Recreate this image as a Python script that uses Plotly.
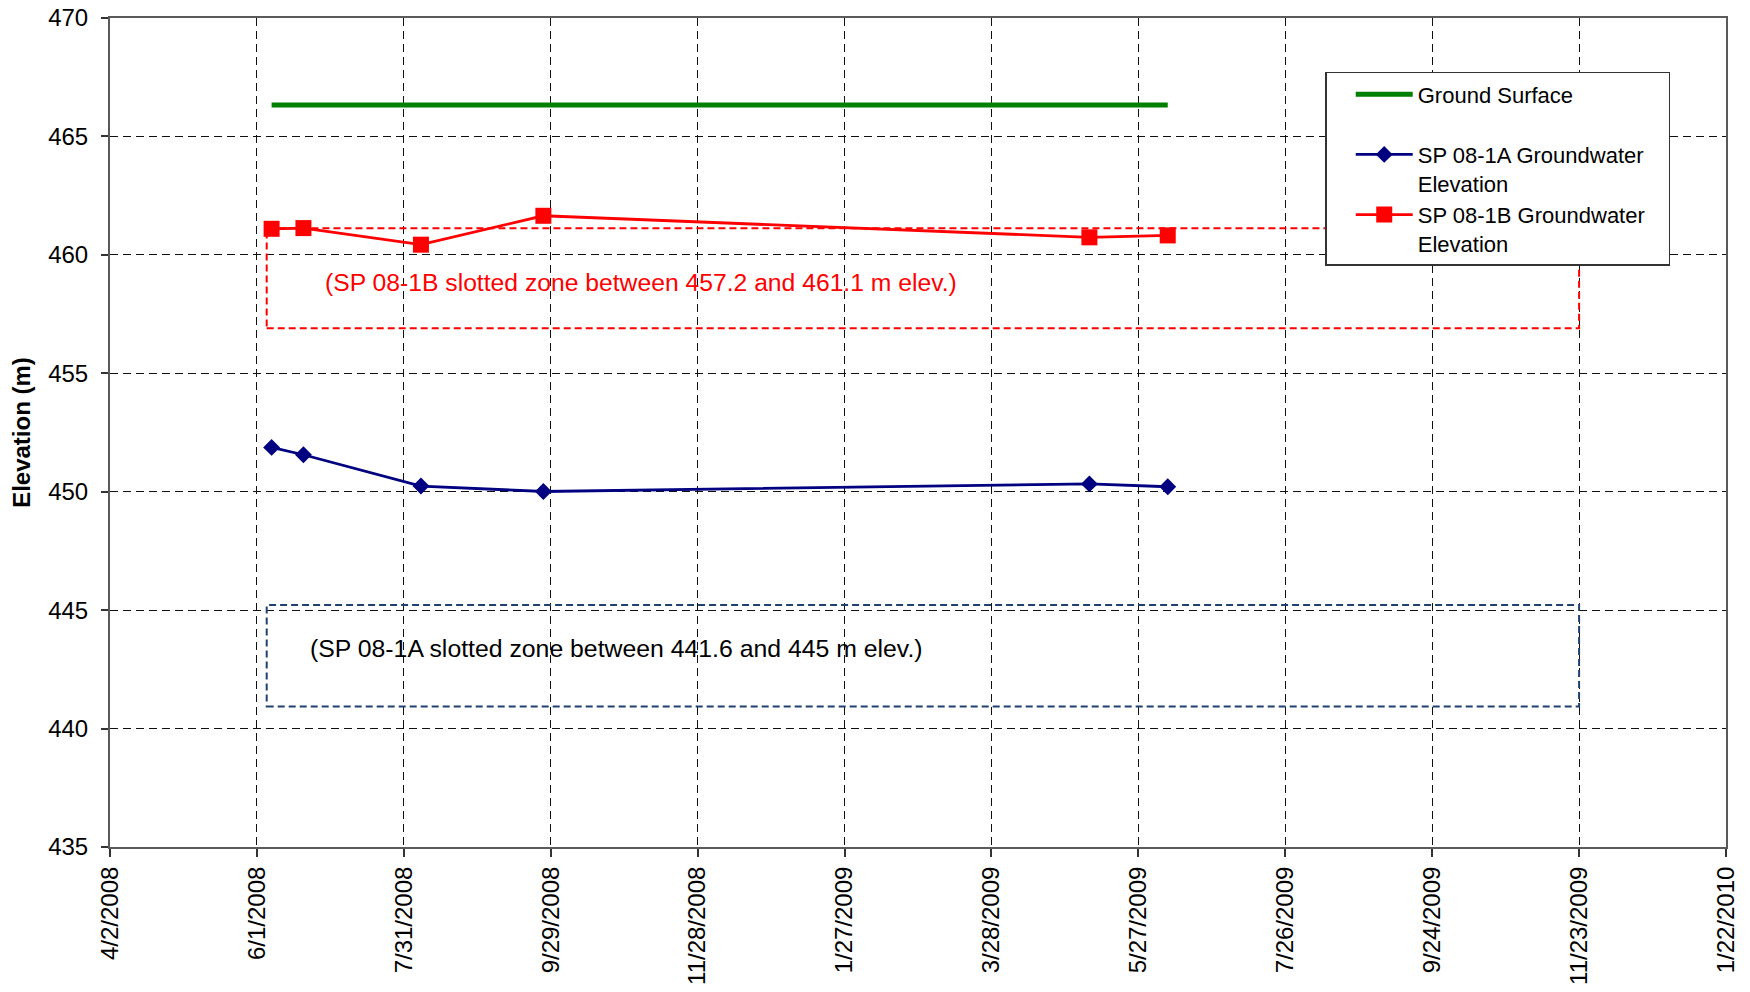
import plotly.graph_objects as go

# ---- data ----
sample_dates = ["2008-06-07", "2008-06-20", "2008-08-07", "2008-09-26", "2009-05-07", "2009-06-08"]
ground_surface = [466.33, 466.33, 466.33, 466.33, 466.33, 466.33]
sp_1a = [451.87, 451.56, 450.24, 450.01, 450.33, 450.21]
sp_1b = [461.10, 461.13, 460.43, 461.65, 460.74, 460.82]

zone_dates = ["2008-06-05", "2009-11-23"]
zone_1b = [456.9, 461.12]
zone_1a = [440.93, 445.22]

tick_dates = ["2008-04-02", "2008-06-01", "2008-07-31", "2008-09-29", "2008-11-28", "2009-01-27",
              "2009-03-28", "2009-05-27", "2009-07-26", "2009-09-24", "2009-11-23", "2010-01-22"]
tick_labels = ["4/2/2008", "6/1/2008", "7/31/2008", "9/29/2008", "11/28/2008", "1/27/2009",
               "3/28/2009", "5/27/2009", "7/26/2009", "9/24/2009", "11/23/2009", "1/22/2010"]
y_ticks = [435, 440, 445, 450, 455, 460, 465, 470]

label_1b = "(SP 08-1B slotted zone between 457.2 and 461.1 m elev.)"
label_1b_pos = ["2008-06-28", 458.85]
label_1a = "(SP 08-1A slotted zone between 441.6 and 445 m elev.)"
label_1a_pos = ["2008-06-22", 443.38]

legend_names = ["Ground Surface<br> ",
                "SP 08-1A Groundwater&nbsp;&nbsp;&nbsp;<br>Elevation",
                "SP 08-1B Groundwater&nbsp;&nbsp;&nbsp;<br>Elevation"]

FONT = "Arial, Liberation Sans, sans-serif"

fig = go.Figure()
fig.add_trace(go.Scatter(x=sample_dates, y=ground_surface, mode="lines", name=legend_names[0],
                         line=dict(color="#008000", width=5), legendgroup="g1"))
fig.add_trace(go.Scatter(x=sample_dates, y=sp_1a, mode="lines+markers", name=legend_names[1],
                         line=dict(color="#000080", width=2.8),
                         marker=dict(symbol="diamond", size=13, color="#000080"), legendgroup="g2"))
fig.add_trace(go.Scatter(x=sample_dates, y=sp_1b, mode="lines+markers", name=legend_names[2],
                         line=dict(color="#FF0000", width=2.8),
                         marker=dict(symbol="square", size=16, color="#FF0000"), legendgroup="g3"))

fig.add_shape(type="rect", xref="x", yref="y", x0=zone_dates[0], x1=zone_dates[1],
              y0=zone_1b[0], y1=zone_1b[1], line=dict(color="#FF0000", width=2, dash="7px,4px"))
fig.add_shape(type="rect", xref="x", yref="y", x0=zone_dates[0], x1=zone_dates[1],
              y0=zone_1a[0], y1=zone_1a[1], line=dict(color="#1f4170", width=2, dash="7px,4px"))

fig.add_annotation(x=label_1b_pos[0], y=label_1b_pos[1], text=label_1b, showarrow=False,
                   xanchor="left", yanchor="middle", font=dict(family=FONT, size=24.7, color="#FF0000"))
fig.add_annotation(x=label_1a_pos[0], y=label_1a_pos[1], text=label_1a, showarrow=False,
                   xanchor="left", yanchor="middle", font=dict(family=FONT, size=24.8, color="#000000"))

fig.update_layout(
    width=1750, height=992,
    margin=dict(l=110, r=24, t=18, b=145),
    paper_bgcolor="white", plot_bgcolor="white",
    font=dict(family=FONT, size=24, color="black"),
    showlegend=True,
    legend=dict(x=0.752, y=0.935, xanchor="left", yanchor="top",
                bgcolor="white", bordercolor="#333333", borderwidth=1.5,
                font=dict(family=FONT, size=22, color="black"),
                valign="top", tracegroupgap=18, itemwidth=57, indentation=24,
                traceorder="normal"),
)
fig.update_xaxes(type="date", range=[tick_dates[0], tick_dates[-1]],
                 tickvals=tick_dates, ticktext=tick_labels, tickangle=-90,
                 tickfont=dict(family=FONT, size=24, color="black"),
                 ticks="outside", ticklen=8, tickcolor="#333333", tickwidth=1.5,
                 showgrid=True, gridcolor="#111111", gridwidth=1, griddash="8px,5px",
                 showline=True, linecolor="#5a5a5a", linewidth=2, mirror=True,
                 zeroline=False, ticklabelstandoff=0, automargin=False)
fig.update_yaxes(range=[435, 470], tickvals=y_ticks,
                 tickfont=dict(family=FONT, size=24, color="black"),
                 ticks="outside", ticklen=7, tickcolor="#333333", tickwidth=1.5,
                 showgrid=True, gridcolor="#111111", gridwidth=1, griddash="8px,5px",
                 showline=True, linecolor="#5a5a5a", linewidth=2, mirror=True,
                 zeroline=False, ticklabelstandoff=8, automargin=False,
                 title=dict(text="<b>Elevation (m)</b>", font=dict(family=FONT, size=24, color="black"),
                            standoff=11))

fig.write_html("out.html", config={"displayModeBar": False},
               post_script="document.body.style.margin='0';document.body.style.overflow='hidden';")
